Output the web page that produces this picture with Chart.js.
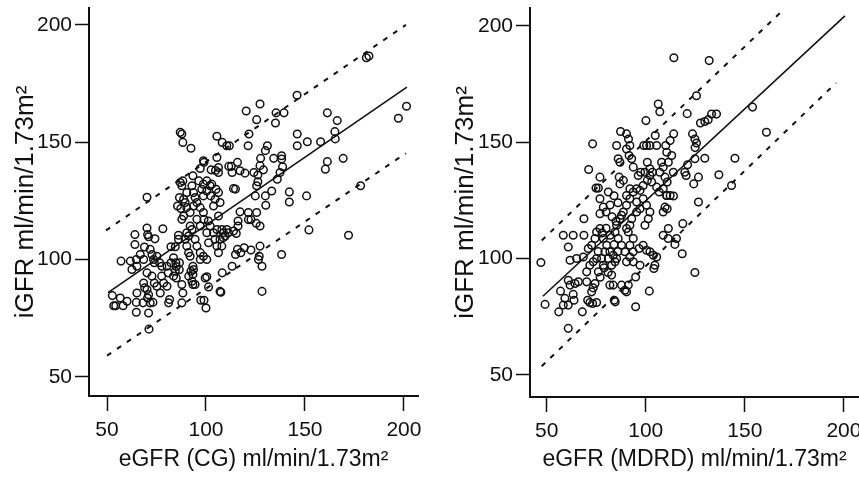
<!DOCTYPE html>
<html>
<head>
<meta charset="utf-8">
<script src="https://cdn.jsdelivr.net/npm/chart.js@4.4.1/dist/chart.umd.min.js"></script>
<style>
  html, body { margin: 0; padding: 0; background: #fff; }
  #wrap { position: relative; width: 859px; height: 479px; overflow: hidden; }
  canvas { position: absolute; top: 0; }
</style>
</head>
<body>
<div id="wrap">
  <canvas id="cgChart" width="430" height="479" style="left:0px"></canvas>
  <!-- wider than the window on purpose: the axis runs to the edge and the last label gets cut, as in the figure -->
  <canvas id="mdrdChart" width="460" height="479" style="left:430px"></canvas>
</div>
<script>
// ---- data ----
const xTicks = [50, 100, 150, 200];
const yTicks = [50, 100, 150, 200];

// eGFR (CG) vs iGFR  [x, y]
const cgPoints = [
  [181,186],[182.3,186.7],[146,170],[201.3,165.3],[197.2,160.2],[127.3,166.3],[120.3,163.3],[125.6,159.6],
  [135.4,162.5],[139.4,162.5],[135.1,158.2],[161.3,162.5],[166.3,159.2],[165.1,154.5],[165.3,151.4],[157.9,150.2],
  [146.1,153.5],[146.1,148.5],[151.2,150.2],[169.3,143.1],[161.3,141.7],[160.3,138.5],[178.1,131.4],[150.8,127.1],
  [152,112.6],[172,110.3],[138.2,102.1],[128.3,86.4],[142.1,128.8],[142.1,124.5],[138.2,144.2],[138.2,142.8],
  [138.7,139.5],[137.4,137.1],[134.2,143.1],[131,148.5],[130,146.4],[121.7,153.5],[121.3,148.5],[127.6,143.1],
  [127.3,140],[129,138.2],[124.2,137.1],[126.2,136],[126.2,133.1],[125.6,131.4],[124.9,127.1],[130,127.1],
  [130.2,123.1],[133.2,129.2],[136,134.2],[121.4,120],[121.4,117],[125.6,120],[122.7,117],[125.4,115.4],
  [127.3,114.3],[117.2,120.3],[122.7,104],[127.3,105.7],[126.9,101.4],[126.5,100],[128.3,97.1],[119.3,105],
  [115.9,104.3],[117.6,102.9],[114.9,102.1],[113.2,97.1],[108.2,94.3],[107.1,86.4],[113.9,112.1],[115.3,111.1],
  [116.2,116.4],[116.2,114.3],[113.9,130.2],[114.9,130],[113.2,137.1],[115.9,141.4],[117.2,137.8],[119.7,136.8],
  [111.5,139.7],[112.8,139.7],[110.5,148.5],[111.8,148.5],[108.2,149.9],[105.5,152.5],[105.5,143.5],[106.3,139.2],
  [98.7,142.1],[99,141.4],[97.1,138.8],[92.4,147.4],[87,154.2],[87.8,153.5],[88.3,149.9],[70.2,126.5],
  [78.2,113.1],[70.2,113.4],[70.5,110.6],[71,109.7],[74.2,108.8],[64.1,110.6],[64.1,106.4],[68.9,105.3],
  [66.8,102.1],[68.5,100],[57.1,99.3],[61.8,99.3],[62.6,95.7],[64.8,100],[65.1,97.1],[71.8,104.3],
  [72.7,102.1],[73.5,100],[73.9,98.6],[75.2,101.4],[76.6,98.6],[77.7,97.1],[70.2,94.3],[68.5,90],
  [69,87.9],[65.1,85.7],[64.8,81.7],[68.2,81.5],[71.8,81.5],[73.2,81.7],[70.2,87.2],[71,85],
  [70.5,83.6],[72.7,92.9],[73.9,90],[75.2,88.6],[77.6,92.9],[78.6,90],[80.3,88.6],[80.9,94.3],
  [80.3,97.1],[82.3,98.6],[76.9,85.7],[81.6,82.9],[81.1,81.5],[52.7,84.6],[53.4,80.3],[54.4,80.3],
  [56.7,83.6],[58.1,80.3],[60.1,82.2],[64.8,77.5],[71,77.2],[71.2,70.3],[83.6,100.7],[84.5,105.4],
  [82.3,105.4],[85,97],[86.5,95.6],[84.8,98.6],[86.6,98.6],[83.6,92.9],[87.8,89.3],[88.3,85.7],
  [93.4,89.3],[94.5,89.3],[93.4,97.1],[93.4,93.6],[93.7,95.7],[87.8,81.5],[97.4,82.6],[99,82.6],
  [100,79.3],[100.4,92.6],[101.3,88.3],[107.5,86],[86.1,110.3],[86.1,108.6],[87.8,117.1],[88.7,118.5],
  [86.6,126.4],[88.7,125.7],[89.5,124.3],[87,132.8],[88.3,133.5],[93.4,135.7],[92.9,131.4],[93.7,128.5],
  [94.5,126.4],[95.4,124.3],[90.3,122.1],[92,120],[93.7,122.8],[97.1,122.1],[98.7,120],[95.4,117.1],
  [97.1,114.3],[99,117.1],[101.2,116.4],[97.9,129.9],[98.7,127.1],[100.4,129.2],[102.1,131.4],[102.4,127.1],
  [104.6,125.7],[106.3,128.5],[107.1,124.3],[103.8,122.8],[100.4,133.5],[102.9,132.1],[105.1,129.9],[90.3,111.4],
  [91.2,110],[92,114.3],[92.9,112.8],[89.5,108.6],[90.3,105.7],[91.2,102.9],[92,101.4],[94.5,108.6],
  [95.4,105.7],[97.1,102.9],[98.7,101.4],[100.4,100],[97.1,100],[102.1,114.3],[103.8,111.4],[104.6,108.6],
  [105.5,105.7],[106.3,102.9],[100.4,111.4],[101.3,107.1],[106.3,118.5],[105.5,112.8],[108,112.8],[108.8,111.4],
  [109.7,110],[110.5,112.8],[111.3,111.4],[107.1,108.6],[108,105.7],[108.8,109.3],[99.6,92.1],[91.3,92.9],
  [92.4,95],[92.9,90.7],[84.5,95],[85,92.1],[90.3,128.5],[87.8,131.4],[85.6,122.8],[87.3,121.7],
  [102.6,138.2],[104.8,137.9],[106.3,137.1],[96.4,133.5],[98.7,132.1]
];
const cgFit   = [[50.5, 85.9], [201.5, 173.5]];
const cgUpper = [[49.5, 112.4], [201, 200]];
const cgLower = [[50, 59], [201, 145.3]];

// eGFR (MDRD) vs iGFR  [x, y]
const mdrdPoints = [
  [114.2,186.3],[132,185.1],[125.6,170],[153.9,165.1],[160.9,154.3],[145,143.1],[136.9,136],[143.3,131.4],
  [118.4,102.1],[124.8,94],[106.3,166.4],[107.1,163.1],[100.1,159.3],[120.9,162.3],[127.6,158.3],[129.8,158.9],
  [131.5,159.7],[133.2,162.1],[135.7,162.1],[123.6,153.6],[124.8,151.4],[125.6,149.7],[124.9,147.7],[124.8,142.9],
  [129.8,143.1],[121.1,140.3],[119.7,137.1],[120.4,135.7],[124.2,132.1],[126.6,135],[126.6,124.3],[111.4,141.4],
  [113.9,137.1],[114.1,153.6],[112.3,150.7],[110.1,148.6],[110.6,145.7],[113.1,144.3],[104.8,152.9],[105.5,148.6],
  [102.1,148.6],[100.4,148.6],[108,141.4],[108.8,139.3],[100.8,141.4],[102.1,138.6],[103.4,137.1],[107.1,137.1],
  [109.7,135],[110.8,132.9],[97.4,137.1],[96.2,135.7],[93.7,139.3],[85.3,148.6],[86.1,142.9],[87,141.4],
  [87.3,154.6],[90.3,153.6],[91.3,151.4],[92,148.6],[90.3,147.1],[91.6,144.3],[92.9,142.9],[73.2,149.3],
  [71.2,138.3],[76.9,135],[76.1,130.3],[74.9,130.3],[81.1,128.6],[76.9,125.7],[78.6,122.1],[76.9,119.3],
  [68.8,117.1],[68.8,110],[58.4,110],[63.4,110],[60.9,105],[61.8,99.3],[65.1,100],[68.5,100.7],
  [47.1,98.3],[49.2,80.3],[56.1,77.1],[57,86],[59.2,82.9],[58.4,80],[60.9,80],[63.8,82.1],
  [63.4,84.6],[60.9,90.7],[61.8,88.6],[64.3,89.3],[66,90],[70.2,90],[68,77.1],[60.9,70],
  [70.7,82.1],[71.8,81.1],[73.2,80.7],[75.2,81.1],[72.7,85.7],[73.5,87.4],[74.4,89.3],[70.2,94.3],
  [71.8,97.1],[73.5,98.6],[75.2,100],[71,104.3],[72.7,105.7],[74.4,108.6],[75.2,111.4],[76.9,112.9],
  [78.6,108.6],[80.3,105.7],[81.9,102.9],[83.6,101.4],[85.3,100],[79.4,102.9],[81.1,100],[82.8,97.1],
  [84.5,98.6],[77.7,100],[78.6,97.1],[76.1,94.3],[82.8,92.9],[83.6,88.6],[81.9,88.6],[84.1,82.1],
  [84.6,81.4],[87.8,88.6],[89.5,86.4],[90.3,85.7],[91.2,88.6],[94.9,79.3],[94.9,92.1],[101.8,86],
  [85.3,114.3],[87,117.1],[87.8,118.6],[88.7,120],[90.3,122.9],[92,125.7],[84.5,111.4],[86.1,108.6],
  [87.8,105.7],[89.5,102.9],[92,105.7],[93.7,108.6],[92,114.3],[92.9,117.1],[90.3,112.9],[91.2,111.4],
  [93.7,128.6],[95.4,130],[97.1,129.3],[92,130],[90.3,127.1],[95.4,124.3],[97.1,121.4],[95.4,120],
  [98.7,125.7],[100.4,122.9],[102.1,120],[101.3,117.1],[99.6,114.3],[98.7,105.7],[100.4,103.6],[102.1,102.9],
  [103.8,101.4],[105.5,100.7],[96.6,104.3],[93.7,102.9],[92,100.7],[90.3,98.6],[104.6,97.1],[104.1,95.7],
  [97.1,97.1],[93.7,98.6],[98.7,131.4],[100.8,133.6],[103,132.9],[102.1,135.7],[99.6,137.1],[105.5,130.7],
  [106.8,128.6],[108.8,130],[110.5,127.1],[109.7,122.1],[110.8,121.4],[108.8,120],[110.6,127.1],[112.3,127.1],
  [114,126.9],[111.4,112.9],[108.8,110],[111.3,108.6],[114.7,106.1],[115.5,108.6],[118.7,115],[99,148.6],
  [86.6,135],[87,132.1],[88.7,133.6],[76,103],[78,111],[80,113],[82,110],[84,106],
  [86,103],[79,96],[81,94],[77,92],[80,120],[82,123],[84,127],[86,124],
  [83,118],[85,116]
];
const mdrdFit   = [[48.1, 83.8], [200.5, 204.3]];
const mdrdUpper = [[47.5, 107.8], [167.9, 205.7]];
const mdrdLower = [[47.5, 53.7], [196, 175.5]];

// ---- drawing ----
const FONT = "'Liberation Sans', Arial, Helvetica, sans-serif";
const INK = '#111';

function toXY(arr) { return arr.map(p => ({ x: p[0], y: p[1] })); }

function lineSet(arr, dash) {
  return {
    type: 'line', data: toXY(arr), borderColor: INK, borderWidth: dash.length ? 2 : 1.6,
    borderDash: dash, pointRadius: 0, fill: false, tension: 0
  };
}

function makePanel(id, cfg) {
  new Chart(document.getElementById(id), {
    type: 'scatter',
    data: {
      datasets: [
        {
          data: toXY(cfg.points), pointRadius: 3.8, pointHoverRadius: 3.8,
          borderColor: INK, backgroundColor: 'rgba(0,0,0,0)', borderWidth: 1.5
        },
        lineSet(cfg.fit, []),
        lineSet(cfg.upper, [5, 7]),
        lineSet(cfg.lower, [5, 7])
      ]
    },
    options: {
      responsive: false,
      animation: false,
      events: [],
      layout: { padding: { top: 8, right: cfg.padRight, bottom: 0, left: 0 } },
      plugins: { legend: { display: false }, tooltip: { enabled: false } },
      scales: {
        x: {
          type: 'linear', min: cfg.xMin, max: cfg.xMax,
          afterBuildTicks: s => { s.ticks = xTicks.map(v => ({ value: v })); },
          afterFit: s => { s.height = cfg.xHeight; s.paddingLeft = 0; s.paddingRight = 0; },
          border: { display: true, color: INK, width: 2 },
          grid: { drawOnChartArea: false, drawTicks: true, tickLength: 15, tickColor: INK, tickWidth: 1.5 },
          ticks: { color: INK, padding: 7, maxRotation: 0, font: { family: FONT, size: 21 } },
          title: {
            display: true, text: cfg.xTitle, color: INK,
            font: { family: FONT, size: 23 }, padding: { top: 0, bottom: 6 }
          }
        },
        y: {
          type: 'linear', min: cfg.yMin, max: cfg.yMax,
          afterBuildTicks: s => { s.ticks = yTicks.map(v => ({ value: v })); },
          afterFit: s => { s.width = cfg.yWidth; s.paddingTop = 0; s.paddingBottom = 0; },
          border: { display: true, color: INK, width: 2 },
          grid: { drawOnChartArea: false, drawTicks: true, tickLength: 14, tickColor: INK, tickWidth: 1.5 },
          ticks: { color: INK, padding: 3, font: { family: FONT, size: 21 } },
          title: {
            display: true, text: cfg.yTitle, color: INK,
            font: { family: FONT, size: 26 }, padding: { top: cfg.yTitlePad, bottom: 0 }
          }
        }
      }
    }
  });
}

makePanel('cgChart', {
  points: cgPoints, fit: cgFit, upper: cgUpper, lower: cgLower,
  xMin: 40.9, xMax: 207.1, yMin: 41.8, yMax: 207.2,
  xTitle: 'eGFR (CG) ml/min/1.73m\u00B2', yTitle: 'iGFR ml/min/1.73m\u00B2',
  yWidth: 89, xHeight: 83, padRight: 12, yTitlePad: 10
});

makePanel('mdrdChart', {
  points: mdrdPoints, fit: mdrdFit, upper: mdrdUpper, lower: mdrdLower,
  xMin: 41.6, xMax: 207.6, yMin: 40.5, yMax: 207.7,
  xTitle: 'eGFR (MDRD) ml/min/1.73m\u00B2', yTitle: 'iGFR ml/min/1.73m\u00B2',
  yWidth: 100, xHeight: 82, padRight: 31, yTitlePad: 20
});
</script>
</body>
</html>
